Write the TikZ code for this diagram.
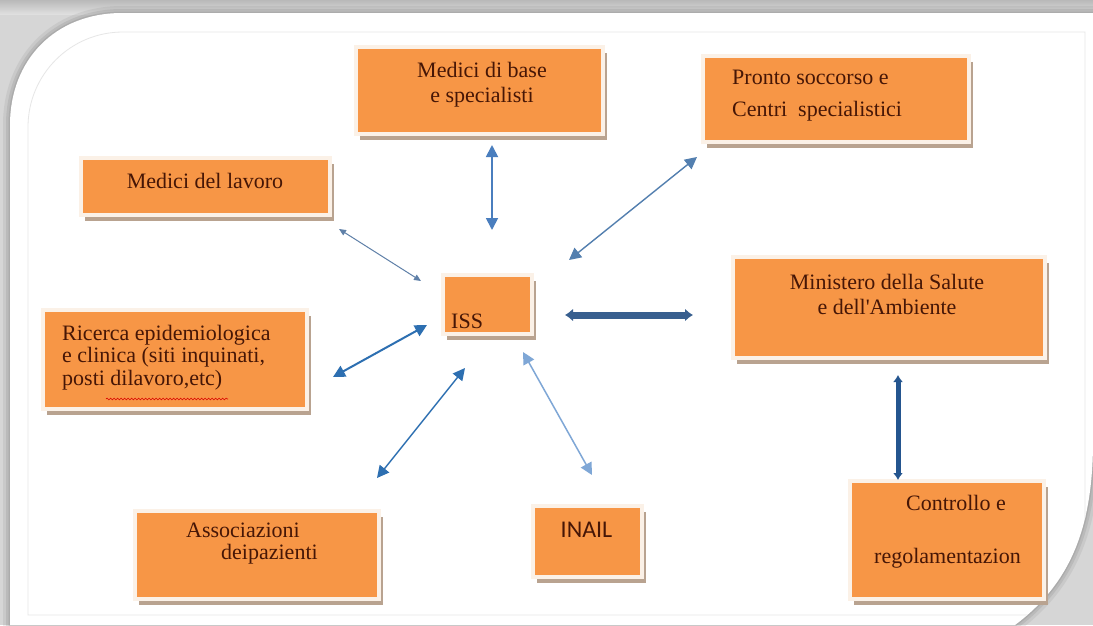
\documentclass[tikz,border=0pt]{standalone}
\usepackage{fontspec}
\newfontfamily\serf{Liberation Serif}
\newfontfamily\sansf{Carlito}
\usetikzlibrary{arrows.meta,shadows,calc,decorations.pathmorphing}
\definecolor{orangec}{HTML}{F79646}
\definecolor{creamc}{HTML}{FBF1E7}
\definecolor{shadowc}{HTML}{B9A390}
\definecolor{textc}{HTML}{461606}
\definecolor{bgc}{HTML}{D6D6D6}
\definecolor{innerc}{HTML}{E6E6E6}
\definecolor{blA}{HTML}{4A7EBE}
\definecolor{blB}{HTML}{537FAF}
\definecolor{blC}{HTML}{5F80A8}
\definecolor{blD}{HTML}{2D6FB1}
\definecolor{blE}{HTML}{7FA7D6}
\definecolor{blF}{HTML}{385F8F}
\definecolor{blG}{HTML}{24558F}
\newcommand{\mypanel}{(10,625) -- (10,125) .. controls (10,60) and (55,13) .. (122,13) -- (1093,13) -- (1093,440) .. controls (1093,520) and (1075,580) .. (1015,625) -- cycle}
\tikzset{
  box/.style={rectangle, fill=orangec, draw=creamc, line width=4pt, inner sep=0pt,
    drop shadow={shadow xshift=4pt, shadow yshift=-6pt, fill=shadowc, opacity=1}},
  txt/.style={text=textc, font=\serf\fontsize{22}{24}\selectfont, inner sep=0pt},
  link/.style={{Triangle[width=12pt,length=12pt]}-{Triangle[width=12pt,length=12pt]}, line width=1.6pt},
}
\begin{document}
\begin{tikzpicture}[x=1pt,y=-1pt]
\useasboundingbox (0,0) rectangle (1093,625);
% background frame
\fill[bgc] (0,0) rectangle (1093,625);
\shade[top color=gray!55, bottom color=gray!25] (0,0) rectangle (1093,14);
\draw[gray, line width=14pt, opacity=0.15] \mypanel;
\draw[gray, line width=8pt, opacity=0.2] \mypanel;
\draw[gray, line width=3pt, opacity=0.25] \mypanel;
\fill[white] \mypanel;
\begin{scope}
\clip \mypanel;
\draw[innerc, line width=0.8pt] (28,615) -- (28,127) .. controls (28,75) and (70,32) .. (123,32) -- (1085,32) -- (1085,615) -- cycle;
\end{scope}
% boxes
\node[box, minimum width=247pt, minimum height=87pt] (base) at (479.5,90.5) {};
\node[box, minimum width=266pt, minimum height=86pt] (pronto) at (836,99) {};
\node[box, minimum width=249pt, minimum height=57pt] (lavoro) at (205.5,186.5) {};
\node[box, minimum width=89pt, minimum height=59pt] (iss) at (487.5,304.5) {};
\node[box, minimum width=312pt, minimum height=101pt] (min) at (889,307.5) {};
\node[box, minimum width=264pt, minimum height=99pt] (ric) at (175,359.5) {};
\node[box, minimum width=244pt, minimum height=88pt] (ass) at (257,555) {};
\node[box, minimum width=109pt, minimum height=71pt] (inail) at (587.5,541.5) {};
\node[box, minimum width=194pt, minimum height=118pt] (ctrl) at (947,540) {};
% texts
\node[txt, align=center] (tbase) at (482,84.5) {Medici di base\\[1pt]e specialisti};
\node[txt, align=left, anchor=west] (tpronto) at (732,96) {Pronto soccorso e\\[8pt]Centri\ \ specialistici};
\node[txt] (tlavoro) at (205,181) {Medici del lavoro};
\node[txt, anchor=west] (tiss) at (451,321) {ISS};
\node[txt, align=center] (tmin) at (887,294.5) {Ministero della Salute\\[1pt]e dell'Ambiente};
\node[txt, align=left, anchor=west, font=\serf\fontsize{22}{22.5}\selectfont] (tric) at (62,357.5) {Ricerca epidemiologica\\e clinica (siti inquinati,\\posti dilavoro,etc)};
\node[txt, align=left, anchor=west, font=\serf\fontsize{22}{22}\selectfont] (tass) at (186,544) {Associazioni\\\hspace*{35pt}deipazienti};
\node[txt, font=\sansf\fontsize{24}{26}\selectfont] (tinail) at (586.5,530) {INAIL};
\node[txt] (tctrlA) at (956,503) {Controllo e};
\node[txt] (tctrlB) at (947.5,558) {regolamentazion};
% spell-check squiggle
\draw[red!85!black, line width=0.6pt, decorate, decoration={snake, amplitude=0.9pt, segment length=3.5pt}] (106,399) -- (228,399);
% connectors
\draw[link, blA, line width=1.8pt] ($(base)+(12.5,54.5)$) -- ($(iss)+(4.5,-74.5)$);
\draw[link, blB, line width=1.4pt] ($(pronto)+(-139,58)$) -- ($(iss)+(81.5,-44.5)$);
\draw[{Triangle[width=6pt,length=7pt]}-{Triangle[width=6pt,length=7pt]}, blC, line width=1pt] ($(lavoro)+(133.5,42.5)$) -- ($(iss)+(-66.5,-23.5)$);
\draw[link, blD, line width=2pt] ($(ric)+(158,17.5)$) -- ($(iss)+(-60.5,20.5)$);
\draw[link, blD, line width=1.4pt] ($(ass)+(120,-77)$) -- ($(iss)+(-22.5,63.5)$);
\draw[link, blE, line width=1.5pt] ($(inail)+(4.5,-66.5)$) -- ($(iss)+(35.5,47.5)$);
\draw[{Latex[width=13pt,length=8pt]}-{Latex[width=13pt,length=8pt]}, blF, line width=7pt] ($(iss)+(77.5,10.5)$) -- ($(min)+(-196,7.5)$);
\draw[{Latex[width=10pt,length=7pt]}-{Latex[width=10pt,length=7pt]}, blG, line width=5pt] ($(min)+(9,67.5)$) -- ($(ctrl)+(-49,-60)$);
\end{tikzpicture}
\end{document}
